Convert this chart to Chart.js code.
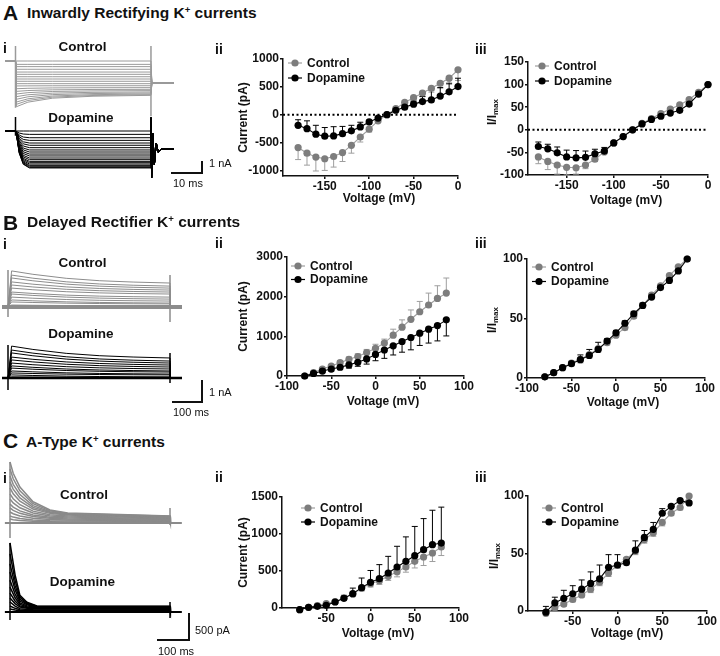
<!DOCTYPE html>
<html>
<head>
<meta charset="utf-8">
<title>K+ currents and dopamine</title>
<script src="https://cdn.jsdelivr.net/npm/chart.js@4.4.1/dist/chart.umd.min.js"></script>
<style>
  html, body { margin: 0; padding: 0; background: #fff; }
  #fig { position: relative; width: 720px; height: 656px; overflow: hidden;
         font-family: "Liberation Sans", Arial, sans-serif; color: #111; }
  #fig canvas { position: absolute; }
  .lbl { position: absolute; white-space: nowrap; line-height: 1; font-weight: bold; }
  .lbl sup { font-size: 0.62em; vertical-align: 0.55em; }
  .bar { position: absolute; background: #111; }
</style>
</head>
<body>
<div id="fig"></div>
<script>
const FONT = '"Liberation Sans", Arial, sans-serif';
Chart.defaults.font.family = FONT;
Chart.defaults.color = '#111';

// ---- I-V data: voltage (mV) vs current (pA) or I/Imax (%) ----
const voltsA = [-180, -170, -160, -150, -140, -130, -120, -110, -100, -90, -80, -70, -60, -50, -40, -30, -20, -10, 0];
const aCurCtl = [-590, -690, -760, -790, -750, -680, -550, -400, -260, -110, 0, 110, 220, 305, 390, 475, 565, 655, 805];
const aCurCtlErr = [-215, -215, -250, -210, -190, -160, -140, -90, -50, -30, 0, -30, -40, -50, -60, -70, -90, -110, -190];
const aCurDop = [-190, -250, -350, -385, -380, -340, -290, -220, -130, -60, 0, 80, 135, 190, 235, 265, 335, 410, 505];
const aCurDopErr = [100, 140, 160, 155, 165, 130, 100, 85, 30, 15, 0, 20, 30, 50, 90, 180, 155, 155, 150];
const aNormCtl = [-60, -70, -78, -83, -84, -78, -65, -49, -29, -15, 0, 14, 25, 36, 46, 55, 67, 83, 100];
const aNormCtlErr = [-15, -18, -20, -17, -14, -8, -5, -3, -2, -1, 0, -1, -2, -2, -2, -2, -3, -3, 0];
const aNormDop = [-37, -42, -51, -60, -62, -61, -53, -47, -29, -15, 0, 13, 23, 30, 37, 43, 57, 79, 100];
const aNormDopErr = [10, 10, 13, 15, 16, 14, 10, 8, 3, 2, 0, 2, 2, 2, 3, 3, 3, 3, 0];

const voltsBC = [-80, -70, -60, -50, -40, -30, -20, -10, 0, 10, 20, 30, 40, 50, 60, 70, 80];
const bCurCtl = [0, 85, 175, 250, 335, 420, 490, 590, 700, 830, 1030, 1230, 1430, 1620, 1790, 1955, 2090];
const bCurCtlErr = [0, 20, 30, 40, 50, 60, 70, 80, 100, 100, 150, 185, 235, 260, 300, 320, 380];
const bCurDop = [0, 65, 125, 175, 220, 280, 345, 430, 545, 655, 760, 870, 970, 1080, 1180, 1270, 1415];
const bCurDopErr = [0, -20, -40, -50, -60, -80, -100, -130, -160, -210, -230, -270, -310, -310, -350, -385, -405];
const bNormCtl = [1, 4.5, 8.7, 12.6, 15.7, 19.7, 24.7, 29.8, 36, 42.4, 52, 61, 69.7, 77.5, 86, 93.5, 100];
const bNormCtlErr = [0, -1, -1, -2, -3, -3, -3, -2, -2, -2, -2, -2, -2, -2, -2, -1, 0];
const bNormDop = [1, 4.5, 8.7, 12, 15.4, 19, 24, 31, 38, 46, 54, 61, 68, 76, 82, 90, 100];
const bNormDopErr = [0, 1, 1, 2, 4, 5, 6, 2, 2, 2, 2, 2, 2, 2, 2, 1, 0];
const cCurCtl = [-22, 9, 32, 59, 86, 135, 189, 270, 329, 369, 428, 491, 554, 631, 689, 743, 824];
const cCurCtlErr = [0, -10, -15, -20, -20, -30, -35, -40, -45, -50, -55, -70, -70, -90, -115, -115, -115];
const cCurDop = [-22, 9, 23, 36, 81, 131, 194, 275, 347, 396, 473, 554, 631, 707, 788, 856, 878];
const cCurDopErr = [0, 10, 15, 20, 25, 40, 75, 130, 160, 190, 225, 280, 330, 395, 420, 465, 485];
const cNormCtl = [-2, 3, 6, 10, 14, 19, 25, 33, 40, 45, 52, 62, 68, 77, 85, 90, 100];
const cNormCtlErr = [-2, -2, -2, -2, -2, -3, -3, -3, -3, -3, -3, -3, -3, -3, -2, -2, 0];
const cNormDop = [-1, 7, 11, 15, 19, 24, 28, 38, 40, 42, 53, 64, 71, 85, 91, 96, 94];
const cNormDopErr = [5, 5, 7, 7, 8, 10, 12, 11, 9, 4, 8, 6, 6, 4, 0, 0, 0];

// tick labels
const aCurXTicks = [-150, -100, -50, 0];
const aCurYTicks = [-1000, -500, 0, 500, 1000];
const aNormYTicks = [-100, -50, 0, 50, 100, 150];
const bXTicks = [-100, -50, 0, 50, 100];
const bCurYTicks = [0, 1000, 2000, 3000];
const cXTicks = [-50, 0, 50, 100];
const cCurYTicks = [0, 500, 1000, 1500];
const normYTicks = [0, 50, 100];

// ---- example traces, read against the scale bars (A, B: nA; C: pA; time: ms) ----
const aCtlStart = [0, -0.28, -0.47, -0.69, -0.92, -1.11, -1.31, -1.5, -1.69, -1.89, -2.08, -2.31, -2.53, -2.75, -2.97, -3.19, -3.42, -3.61, -3.81];
const aCtlEnd = [0, -0.28, -0.47, -0.69, -0.92, -1.11, -1.31, -1.5, -1.69, -1.89, -2.06, -2.22, -2.36, -2.47, -2.58, -2.67, -2.75, -2.81, -2.86];
const aCtlTail = -1.83;
const aSagT = [0.3, 4, 12, 25, 43.7];
const aSagF = [1, 0.6, 0.25, 0.08, 0];
const aDopLevel = [0, -0.28, -0.56, -0.78, -1.0, -1.19, -1.39, -1.58, -1.75, -1.92, -2.08, -2.25, -2.39, -2.53, -2.64, -2.75, -2.86, -2.94, -3.03, -3.08];
const aOnT = [0.4, 1.2, 2.5, 4.5, 43.7];
const aOnF = [0.15, 0.6, 0.9, 1, 1];
const aRingT = [43.7, 43.9, 44.3, 44.8, 45.4, 46.1, 47.0, 51];
const aRingV = [1.1, -3.9, -0.2, -2.8, -1.0, -1.8, -1.5, -1.5];

const bCtlStart = [1.64, 1.45, 1.32, 1.14, 1.0, 0.86, 0.68, 0.59, 0.45, 0.32, 0.23, 0.09];
const bCtlEnd = [1.09, 0.95, 0.86, 0.77, 0.68, 0.59, 0.45, 0.36, 0.27, 0.18, 0.14, 0.05];
const bDopStart = [1.45, 1.27, 1.14, 0.95, 0.82, 0.68, 0.55, 0.45, 0.32, 0.23, 0.14, 0.05];
const bDopEnd = [0.91, 0.77, 0.68, 0.59, 0.5, 0.41, 0.32, 0.27, 0.18, 0.14, 0.05, 0.02];
const bDecT = [12, 83, 194, 306, 417, 540];
const bDecF = [0, 0.28, 0.61, 0.81, 0.92, 1];
const bCtlMarks = [[0, 1.68, -0.45], [540, 1.45, -0.68]];
const bDopMarks = [[0, 1.5, -0.55], [540, 1.14, -0.23]];

const cCtlPeak = [1130, 1000, 870, 760, 650, 540, 445, 350, 280, 204, 130, 74];
const cCtlSteady = [185, 176, 167, 157, 148, 130, 111, 93, 74, 56, 37, 19];
const cDopPeak = [1280, 1075, 890, 740, 590, 460, 350, 260, 185, 110, 55];
const cDopSteady = [110, 107, 102, 93, 83, 74, 65, 56, 37, 28, 19];
const cCtlT = [0, 10, 31, 72, 125, 180, 500];
const cCtlF = [1, 0.78, 0.51, 0.22, 0.06, 0, 0];
const cCtlG = [0, 0.22, 0.49, 0.78, 0.94, 1, 0.7];
const cDopT = [0, 16, 31, 53, 84, 500];
const cDopF = [1, 0.49, 0.17, 0.06, 0, 0];
const cDopG = [0, 0.51, 0.83, 0.94, 1, 0.95];
const cCtlMarks = [[0, 1130, -278], [500, 278, -37]];
const cDopMarks = [[0, 1278, -148], [500, 185, -111]];

const CTL = '#7d7d7d', CTL_LINE = '#9e9e9e', DOP = '#000';
const PT_R = 3.6;
const fig = document.getElementById('fig');

function place(id, box) {
  const c = document.createElement('canvas');
  c.id = id;
  c.width = box.w; c.height = box.h;
  c.style.left = box.l + 'px'; c.style.top = box.t + 'px';
  c.style.width = box.w + 'px'; c.style.height = box.h + 'px';
  fig.appendChild(c);
  return c;
}

function text(html, x, cy, size, center, bold) {
  const d = document.createElement('div');
  d.className = 'lbl';
  d.innerHTML = html;
  d.style.fontSize = size + 'px';
  d.style.left = x + 'px';
  d.style.top = (cy - size / 2) + 'px';
  if (center) d.style.transform = 'translateX(-50%)';
  if (bold === false) d.style.fontWeight = 'normal';
  fig.appendChild(d);
  return d;
}

function bar(l, t, w, h) {
  const d = document.createElement('div');
  d.className = 'bar';
  Object.assign(d.style, { left: l + 'px', top: t + 'px', width: w + 'px', height: h + 'px' });
  fig.appendChild(d);
}

// error bars drawn under the points
const errorBars = {
  id: 'errorBars',
  beforeDatasetsDraw(chart) {
    const { ctx } = chart;
    const ys = chart.scales.y;
    chart.data.datasets.forEach((ds, i) => {
      if (!ds.errs) return;
      const meta = chart.getDatasetMeta(i);
      ctx.save();
      ctx.strokeStyle = ds.borderColor;
      ctx.lineWidth = 1;
      meta.data.forEach((pt, j) => {
        const e = ds.errs[j];
        if (!e) return;
        const y1 = ys.getPixelForValue(ds.data[j].y + e);
        ctx.beginPath();
        ctx.moveTo(pt.x, pt.y); ctx.lineTo(pt.x, y1);
        ctx.moveTo(pt.x - 3, y1); ctx.lineTo(pt.x + 3, y1);
        ctx.stroke();
      });
      ctx.restore();
    });
  }
};

const zeroLine = {
  id: 'zeroLine',
  beforeDatasetsDraw(chart, args, opts) {
    if (!opts.show) return;
    const { ctx, chartArea } = chart;
    const y = chart.scales.y.getPixelForValue(0);
    ctx.save();
    ctx.strokeStyle = '#000';
    ctx.lineWidth = 2;
    ctx.setLineDash([2, 2.5]);
    ctx.beginPath();
    ctx.moveTo(chartArea.left, y); ctx.lineTo(chartArea.right, y);
    ctx.stroke();
    ctx.restore();
  }
};

const insetLegend = {
  id: 'insetLegend',
  afterDatasetsDraw(chart, args, o) {
    const { ctx } = chart;
    chart.data.datasets.forEach((ds, i) => {
      const x = o.x, y = o.y + i * o.dy;
      ctx.save();
      ctx.strokeStyle = ds.borderColor;
      ctx.lineWidth = 1.2;
      ctx.beginPath(); ctx.moveTo(x - 7, y); ctx.lineTo(x + 7, y); ctx.stroke();
      ctx.fillStyle = ds.pointBackgroundColor;
      ctx.beginPath(); ctx.arc(x, y, PT_R, 0, Math.PI * 2); ctx.fill();
      ctx.fillStyle = '#111';
      ctx.font = 'bold 12px ' + FONT;
      ctx.textBaseline = 'middle';
      ctx.fillText(ds.label, x + 12, y + 0.5);
      ctx.restore();
    });
  }
};

function ivChart(id, box, area, cfg) {
  const series = (label, ys, errs, color, lineColor, order) => ({
    label, errs, order,
    data: cfg.x.map((x, i) => ({ x, y: ys[i] })),
    borderColor: lineColor, backgroundColor: color,
    pointBackgroundColor: color, pointBorderColor: color,
    pointRadius: PT_R, pointBorderWidth: 0, borderWidth: 1.1, clip: false, tension: 0
  });
  const axisCommon = {
    type: 'linear',
    grid: { display: true, drawOnChartArea: false, drawTicks: true, tickLength: 3, color: '#111', lineWidth: 1.5 },
    border: { display: true, color: '#111', width: 1.5 },
  };
  const tickFont = { size: 12, weight: 'bold' };
  return new Chart(place(id, box), {
    type: 'line',
    data: { datasets: [
      series('Control', cfg.ctl, cfg.ctlErr, CTL, CTL_LINE, 1),
      series('Dopamine', cfg.dop, cfg.dopErr, DOP, DOP, 0)
    ] },
    options: {
      responsive: false, animation: false, devicePixelRatio: 1, events: [],
      layout: { padding: { left: 0, bottom: 0, top: area.t - box.t, right: box.l + box.w - area.r } },
      plugins: {
        legend: { display: false },
        tooltip: { enabled: false },
        zeroLine: { show: !!cfg.zero },
        insetLegend: { x: cfg.leg[0] - box.l, y: cfg.leg[1] - box.t, dy: cfg.leg[2] }
      },
      scales: {
        x: Object.assign({}, axisCommon, {
          min: cfg.xmin, max: cfg.xmax,
          afterFit: s => { s.height = box.t + box.h - area.b; },
          afterBuildTicks: s => { s.ticks = cfg.xt.map(v => ({ value: v })); },
          ticks: { font: tickFont, color: '#111', padding: 0, maxRotation: 0, autoSkip: false, callback: v => String(v) }
        }),
        y: Object.assign({}, axisCommon, {
          min: cfg.ymin, max: cfg.ymax,
          afterFit: s => { s.width = area.l - box.l; },
          afterBuildTicks: s => { s.ticks = cfg.yt.map(v => ({ value: v })); },
          ticks: { font: tickFont, color: '#111', padding: 1, autoSkip: false, callback: v => String(v) },
          title: cfg.ytitle ? {
            display: true, text: cfg.ytitle, color: '#111',
            font: { size: 12, weight: 'bold' },
            padding: { top: cfg.ytX - box.l - 7.2, bottom: 0 }
          } : { display: false }
        })
      }
    },
    plugins: [errorBars, zeroLine, insetLegend]
  });
}

function line(points, color, width) {
  return {
    data: points.map(p => ({ x: p[0], y: p[1] })),
    borderColor: color, borderWidth: width || 1, pointRadius: 0, fill: false, tension: 0
  };
}

// m: page position of t = 0 / I = 0 and pixels per unit, from the scale bars
function traceChart(id, box, m, datasets) {
  return new Chart(place(id, box), {
    type: 'line',
    data: { datasets },
    options: {
      responsive: false, animation: false, devicePixelRatio: 1, events: [],
      layout: { padding: 0 },
      plugins: { legend: { display: false }, tooltip: { enabled: false } },
      scales: {
        x: { type: 'linear', display: false, min: (box.l - m.x0) / m.sx, max: (box.l + box.w - m.x0) / m.sx },
        y: { type: 'linear', display: false, min: (m.y0 - box.t - box.h) / m.sy, max: (m.y0 - box.t) / m.sy }
      }
    }
  });
}

// ---------- A i: inward rectifier traces ----------
const A_GRAY = '#9a9a9a';
const aCtlSets = aCtlStart.map((s, k) => {
  const e = aCtlEnd[k];
  const pts = [[-3.2, 0], [0, 0]];
  aSagT.forEach((t, j) => pts.push([t, e + aSagF[j] * (s - e)]));
  pts.push([44.0, aCtlTail], [51, aCtlTail]);
  return line(pts, A_GRAY);
});
aCtlSets.push(line([[0, 1.25], [0, -3.9]], A_GRAY, 1.5), line([[43.7, 1.25], [43.7, -4.6]], A_GRAY, 1.5));
traceChart('trAc', { l: 0, t: 42, w: 182, h: 80 }, { x0: 15.5, sx: 3.1, y0: 61, sy: 12 }, aCtlSets);

const aDopSets = aDopLevel.map(L => {
  const pts = [[-3.2, 0], [0, 0]];
  aOnT.forEach((t, j) => pts.push([t, L * aOnF[j]]));
  aRingT.forEach((t, j) => pts.push([t, aRingV[j]]));
  return line(pts, DOP);
});
aDopSets.push(line([[0, 1.17], [0, -0.4]], DOP, 1.5));
traceChart('trAd', { l: 0, t: 112, w: 182, h: 72 }, { x0: 15.5, sx: 3.1, y0: 131, sy: 12 }, aDopSets);

// ---------- B i: delayed rectifier traces ----------
function bSets(starts, ends, color, marks, baseW) {
  const sets = [line([[-20, 0], [580, 0]], color, baseW)];
  starts.forEach((s, k) => {
    const e = ends[k];
    const pts = [[0, 0]];
    bDecT.forEach((t, j) => pts.push([t, s - bDecF[j] * (s - e)]));
    pts.push([541, 0]);
    sets.push(line(pts, color));
  });
  marks.forEach(mk => sets.push(line([[mk[0], mk[1]], [mk[0], mk[2]]], color, 1.5)));
  return sets;
}
traceChart('trBc', { l: 0, t: 262, w: 190, h: 66 }, { x0: 8, sx: 0.3, y0: 307, sy: 22 },
  bSets(bCtlStart, bCtlEnd, '#8c8c8c', bCtlMarks, 4));
traceChart('trBd', { l: 0, t: 336, w: 190, h: 62 }, { x0: 8, sx: 0.3, y0: 378, sy: 22 },
  bSets(bDopStart, bDopEnd, DOP, bDopMarks, 2.5));

// ---------- C i: A-type traces ----------
function cSets(peaks, steadies, T, F, G, color, marks) {
  const sets = [line([[-16, 0], [537, 0]], color, 2)];
  peaks.forEach((p, k) => {
    const s = steadies[k];
    const pts = T.map((t, j) => [t, F[j] * p + G[j] * s]);
    pts.push([501, 0]);
    sets.push(line(pts, color, 1.5));
  });
  marks.forEach(mk => sets.push(line([[mk[0], mk[1]], [mk[0], mk[2]]], color, 1.5)));
  return sets;
}
traceChart('trCc', { l: 0, t: 455, w: 190, h: 90 }, { x0: 10, sx: 0.32, y0: 523, sy: 0.054 },
  cSets(cCtlPeak, cCtlSteady, cCtlT, cCtlF, cCtlG, '#8a8a8a', cCtlMarks));
traceChart('trCd', { l: 0, t: 535, w: 190, h: 92 }, { x0: 10, sx: 0.32, y0: 612, sy: 0.054 },
  cSets(cDopPeak, cDopSteady, cDopT, cDopF, cDopG, DOP, cDopMarks));

// ---------- I-V plots ----------
ivChart('ivA2', { l: 222, t: 40, w: 248, h: 172 }, { l: 283, t: 59, r: 458, b: 176 }, {
  x: voltsA, ctl: aCurCtl, ctlErr: aCurCtlErr, dop: aCurDop, dopErr: aCurDopErr,
  xmin: -197, xmax: 0, ymin: -1100, ymax: 1000, xt: aCurXTicks, yt: aCurYTicks,
  ytitle: 'Current (pA)', ytX: 244, zero: true, leg: [295, 63, 15]
});
ivChart('ivA3', { l: 478, t: 40, w: 236, h: 174 }, { l: 528, t: 62, r: 708, b: 175 }, {
  x: voltsA, ctl: aNormCtl, ctlErr: aNormCtlErr, dop: aNormDop, dopErr: aNormDopErr,
  xmin: -191, xmax: 0, ymin: -100, ymax: 150, xt: aCurXTicks, yt: aNormYTicks,
  zero: true, leg: [542, 66, 15]
});
ivChart('ivB2', { l: 222, t: 245, w: 256, h: 168 }, { l: 287, t: 257, r: 464, b: 376 }, {
  x: voltsBC, ctl: bCurCtl, ctlErr: bCurCtlErr, dop: bCurDop, dopErr: bCurDopErr,
  xmin: -100, xmax: 100, ymin: 0, ymax: 3000, xt: bXTicks, yt: bCurYTicks,
  ytitle: 'Current (pA)', ytX: 244, leg: [298, 266, 13.5]
});
ivChart('ivB3', { l: 478, t: 245, w: 240, h: 170 }, { l: 527, t: 259, r: 705, b: 378 }, {
  x: voltsBC, ctl: bNormCtl, ctlErr: bNormCtlErr, dop: bNormDop, dopErr: bNormDopErr,
  xmin: -100, xmax: 100, ymin: 0, ymax: 100, xt: bXTicks, yt: normYTicks,
  leg: [539, 267, 14.5]
});
ivChart('ivC2', { l: 222, t: 485, w: 252, h: 163 }, { l: 282, t: 497, r: 459, b: 608 }, {
  x: voltsBC, ctl: cCurCtl, ctlErr: cCurCtlErr, dop: cCurDop, dopErr: cCurDopErr,
  xmin: -100, xmax: 100, ymin: 0, ymax: 1500, xt: cXTicks, yt: cCurYTicks,
  ytitle: 'Current (pA)', ytX: 244, leg: [308, 508, 14]
});
ivChart('ivC3', { l: 478, t: 485, w: 240, h: 163 }, { l: 528, t: 496, r: 707, b: 611 }, {
  x: voltsBC, ctl: cNormCtl, ctlErr: cNormCtlErr, dop: cNormDop, dopErr: cNormDopErr,
  xmin: -100, xmax: 100, ymin: 0, ymax: 100, xt: cXTicks, yt: normYTicks,
  leg: [549, 508, 14]
});

// ---------- text ----------
text('A', 3, 12.5, 21);
text('Inwardly Rectifying K<sup>+</sup> currents', 27, 13, 15.5);
text('B', 3, 222.5, 21);
text('Delayed Rectifier K<sup>+</sup> currents', 27, 222, 15.5);
text('C', 3, 440.5, 21);
text('A-Type K<sup>+</sup> currents', 26, 442, 15.5);

[[48, 49], [244, 243], [478, 477]].forEach(([y1, y2]) => {
  text('i', 3, y1, 14);
  text('ii', 215, y2, 14);
  text('iii', 475, y2, 14);
});

text('Control', 82.5, 47, 13.5, true);
text('Dopamine', 81, 118, 13.5, true);
text('Control', 82.5, 263, 13.5, true);
text('Dopamine', 81, 334, 13.5, true);
text('Control', 84, 495, 13.5, true);
text('Dopamine', 82.5, 582, 13.5, true);

[[379, 198], [626, 200], [383, 401], [623, 402], [378, 633], [627, 633]].forEach(([x, y]) => {
  text('Voltage (mV)', x, y, 12, true);
});
[[493, 111], [493, 319], [495, 555]].forEach(([x, y]) => {
  const d = text('I/I<sub style="font-size:8px;vertical-align:-2px">max</sub>', x, y, 12);
  d.style.transform = 'translate(-50%, 0) rotate(-90deg)';
  d.style.transformOrigin = '50% 50%';
});

// scale bars
bar(201, 161, 2, 13); bar(171, 172, 32, 2);
text('1 nA', 209, 163, 11, false, false);
text('10 ms', 173, 183, 11, false, false);
bar(201, 380, 2, 23); bar(172, 401, 31, 2);
text('1 nA', 209, 392, 11, false, false);
text('100 ms', 173, 412, 11, false, false);
bar(188, 613, 2, 28); bar(157, 639, 33, 2);
text('500 pA', 195, 630, 11, false, false);
text('100 ms', 158, 651, 11, false, false);
</script>
</body>
</html>
